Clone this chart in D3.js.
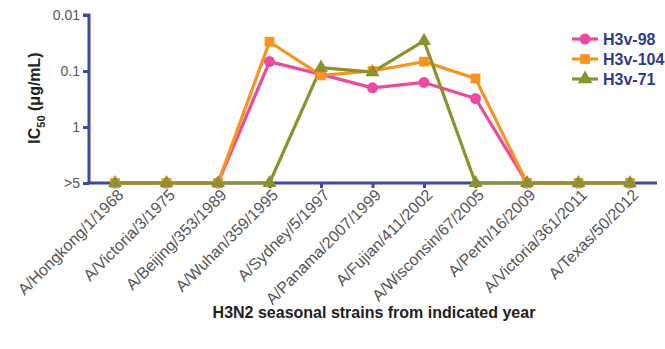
<!DOCTYPE html>
<html>
<head>
<meta charset="utf-8">
<script src="https://cdn.jsdelivr.net/npm/d3@7"></script>
<style>
  body { margin: 0; background: #fff; }
  text { font-family: Arial, "Liberation Sans", sans-serif; }
</style>
</head>
<body>
<svg id="chart" width="665" height="349"></svg>
<script>
// strains along the x axis
var strains = ["A/Hongkong/1/1968", "A/Victoria/3/1975", "A/Beijing/353/1989",
    "A/Wuhan/359/1995", "A/Sydney/5/1997", "A/Panama/2007/1999", "A/Fujian/411/2002",
    "A/Wisconsin/67/2005", "A/Perth/16/2009", "A/Victoria/361/2011", "A/Texas/50/2012"];

// IC50 values (ug/mL); 10 means ">5" (not neutralizing)
var h3v98  = [10, 10, 10, 0.068, 0.115, 0.2, 0.16, 0.31, 10, 10, 10];
var h3v104 = [10, 10, 10, 0.03, 0.12, 0.1, 0.068, 0.136, 10, 10, 10];
var h3v71  = [10, 10, 10, 10, 0.087, 0.105, 0.029, 10, 10, 10, 10];

var yTicks = [0.01, 0.1, 1, 10];
var yTickLabels = ["0.01", "0.1", "1", ">5"];

var seriesNames = ["H3v-98", "H3v-104", "H3v-71"];
var seriesColors = ["#ec4a9c", "#f7941d", "#8a9330"];
var seriesShapes = [d3.symbolCircle, d3.symbolSquare, d3.symbolTriangle];
var seriesData = [h3v98, h3v104, h3v71];

var svg = d3.select("#chart");
var axisColor = "#3b4a9c";

var x = d3.scalePoint().domain(strains).range([115, 630]);
var y = d3.scaleLog().domain([0.01, 10]).range([15, 183]);

// y axis
var yAxis = svg.append("g").attr("transform", "translate(89,0)")
    .call(d3.axisLeft(y).tickValues(yTicks).tickSize(6)
        .tickFormat(function(d, i){ return yTickLabels[i]; }));
yAxis.select(".domain").attr("stroke", axisColor).attr("stroke-width", 3)
    .attr("d", "M-6," + y(0.01) + "H0V" + y(10));
yAxis.selectAll(".tick line").attr("stroke", axisColor).attr("stroke-width", 3);
yAxis.selectAll(".tick text").attr("fill", "#555").attr("font-size", 14)
    .attr("x", -9).attr("font-family", "Arial, 'Liberation Sans', sans-serif");

// x axis
var xAxis = svg.append("g").attr("transform", "translate(0," + y(10) + ")")
    .call(d3.axisBottom(x).tickSize(5));
xAxis.select(".domain").attr("stroke", axisColor).attr("stroke-width", 3)
    .attr("d", "M88,0H657");
xAxis.selectAll(".tick line").attr("stroke", axisColor).attr("stroke-width", 3);
xAxis.selectAll(".tick text").attr("fill", "#555").attr("font-size", 16)
    .attr("font-family", "Arial, 'Liberation Sans', sans-serif")
    .attr("text-anchor", "end")
    .attr("transform", "translate(5,9) rotate(-45)")
    .attr("x", 0).attr("y", 0).attr("dy", "0.35em");

// lines + markers
var line = d3.line()
    .x(function(d, i){ return x(strains[i]); })
    .y(function(d){ return y(d); });

seriesData.forEach(function(vals, s){
    svg.append("path").datum(vals)
        .attr("fill", "none")
        .attr("stroke", seriesColors[s])
        .attr("stroke-width", 3.2)
        .attr("stroke-linejoin", "round")
        .attr("d", line);
});
seriesData.forEach(function(vals, s){
    svg.selectAll(".m" + s).data(vals).enter()
        .append("path")
        .attr("class", "m" + s)
        .attr("transform", function(d, i){ return "translate(" + x(strains[i]) + "," + y(d) + ")"; })
        .attr("d", d3.symbol().type(seriesShapes[s]).size(s == 2 ? 85 : 95))
        .attr("fill", seriesColors[s]);
});

// legend
var legend = svg.append("g").selectAll("g").data(seriesNames).enter()
    .append("g").attr("transform", function(d, i){ return "translate(572," + (39 + i * 20) + ")"; });
legend.append("line").attr("x1", 0).attr("x2", 26)
    .attr("stroke", function(d, i){ return seriesColors[i]; }).attr("stroke-width", 3.2);
legend.append("path").attr("transform", "translate(13,0)")
    .attr("d", function(d, i){ return d3.symbol().type(seriesShapes[i]).size(95)(); })
    .attr("fill", function(d, i){ return seriesColors[i]; });
legend.append("text").attr("x", 31).attr("dy", "0.36em")
    .attr("font-size", 16).attr("font-weight", "bold").attr("fill", "#2e3a8c")
    .text(function(d){ return d; });

// axis titles
var yt = svg.append("text")
    .attr("transform", "translate(40,98) rotate(-90)")
    .attr("text-anchor", "middle").attr("font-size", 16).attr("font-weight", "bold")
    .attr("fill", "#222");
yt.append("tspan").text("IC");
yt.append("tspan").attr("font-size", 11).attr("dy", 5).text("50");
yt.append("tspan").attr("dy", -5).text(" (\u03bcg/mL)");

svg.append("text").attr("x", 374).attr("y", 318)
    .attr("text-anchor", "middle").attr("font-size", 16).attr("font-weight", "bold")
    .attr("fill", "#222").text("H3N2 seasonal strains from indicated year");
</script>
</body>
</html>
